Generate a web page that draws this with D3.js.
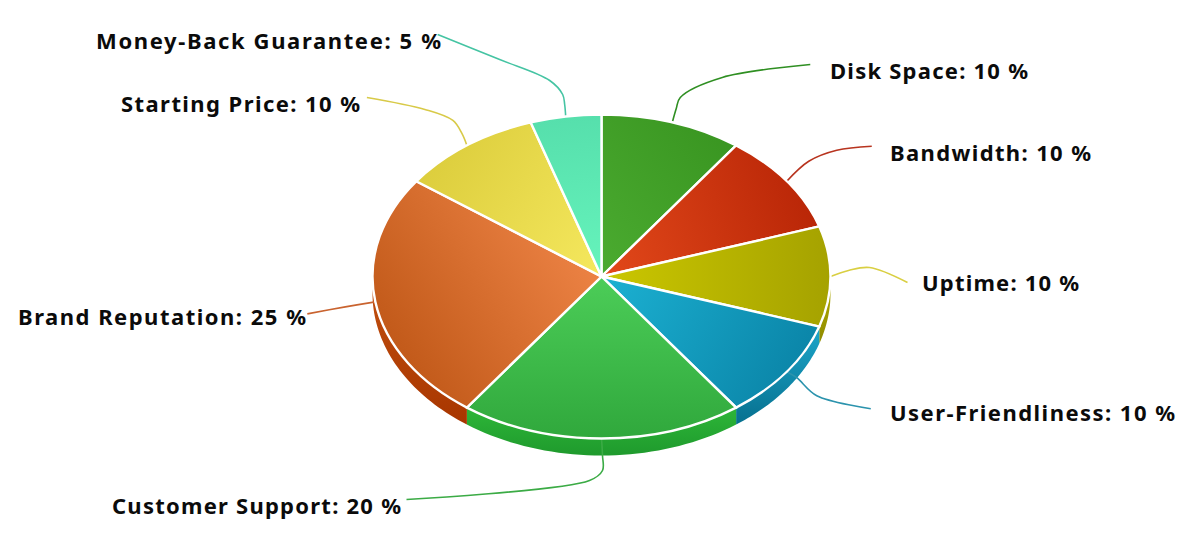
<!DOCTYPE html>
<html>
<head>
<meta charset="utf-8">
<script src="https://cdn.jsdelivr.net/npm/d3@7"></script>
<style>
  html, body { margin: 0; background: #fff; overflow: hidden; }
  text { font-family: "Noto Sans", sans-serif; font-weight: 700; font-size: 22px; fill: #0b0b0b; }
</style>
</head>
<body>
<script>
const categories = ['Disk Space', 'Bandwidth', 'Uptime', 'User-Friendliness', 'Customer Support', 'Brand Reputation', 'Starting Price', 'Money-Back Guarantee'];
const shares = [10, 10, 10, 10, 20, 25, 10, 5];

const lightColors = ['#4bab30', '#e2481a', '#cbc700', '#1cb1d2', '#4ccd58', '#ec8244', '#f5e85e', '#66f4bc'];
const darkColors = ['#389420', '#b92607', '#a5a200', '#0b86a9', '#30a83c', '#c25a1a', '#dccd3c', '#56dfac'];
const wallLight = ['#368f1e', '#b82405', '#b3ae00', '#1ca6ca', '#2db638', '#c2500f', '#d6c635', '#54dcaa'];
const wallDark = ['#368f1e', '#b82405', '#8f8a00', '#07708f', '#1f9a2d', '#a83600', '#d6c635', '#54dcaa'];
const leaderColors = ['#2f8f22', '#b8341f', '#d9cf42', '#2b93ad', '#3bab45', '#c9632f', '#d8ca48', '#45c4a3'];

const width = 1193, height = 549;
const cx = 601.5, cy = 276.5, rx = 229, ry = 162, depth = 17;

const svg = d3.select('body').append('svg')
  .attr('width', width)
  .attr('height', height);

const defs = svg.append('defs');

const slices = d3.pie().sort(null).value(d => d)(shares);
const midAngle = d => (d.startAngle + d.endAngle) / 2;
const rimPoint = a => [cx + rx * Math.sin(a), cy - ry * Math.cos(a)];

// direction of the shading inside each slice, degrees clockwise from up
const shadeDirs = [58, 78, 90, 112, 180, 245, 295, 350];

slices.forEach((d, i) => {
  const a = shadeDirs[i] * Math.PI / 180;
  const g = defs.append('linearGradient')
    .attr('id', `top${i}`)
    .attr('gradientUnits', 'userSpaceOnUse')
    .attr('x1', 0).attr('y1', 0)
    .attr('x2', rx * Math.sin(a)).attr('y2', -rx * Math.cos(a));
  g.append('stop').attr('offset', 0).attr('stop-color', lightColors[i]);
  g.append('stop').attr('offset', 1).attr('stop-color', darkColors[i]);

  const w = defs.append('linearGradient')
    .attr('id', `wall${i}`)
    .attr('x1', 0).attr('y1', 0).attr('x2', 0).attr('y2', 1);
  w.append('stop').attr('offset', 0).attr('stop-color', wallLight[i]);
  w.append('stop').attr('offset', 1).attr('stop-color', wallDark[i]);
});

// outer wall of the disc, only the part of each slice facing the viewer
const wallPath = d => {
  const a0 = Math.max(d.startAngle, Math.PI / 2);
  const a1 = Math.min(d.endAngle, Math.PI * 3 / 2);
  if (a1 <= a0) return null;
  const upper = d3.range(0, 41).map(k => rimPoint(a0 + (a1 - a0) * k / 40));
  const lower = upper.slice().reverse().map(p => [p[0], p[1] + depth]);
  return d3.line()(upper.concat(lower)) + 'Z';
};

svg.append('g')
  .selectAll('path')
  .data(slices)
  .enter().append('path')
  .attr('d', wallPath)
  .attr('fill', (d, i) => `url(#wall${i})`);

// leaders run from the rim at the middle of the slice, offsets from that point
const leaderBends = [
  [[4, -14], [8, -25], [50, -45], [138, -58]],
  [[22, -20], [50, -31], [85, -35]],
  [[18, -6], [39, -9], [77, 6]],
  [[10, 6], [30, 24], [84, 37]],
  [[1, 17], [1, 32], [-12, 42], [-195, 61]],
  [[-30, 5], [-68, 12]],
  [[-5, -12], [-14, -25], [-42, -36], [-100, -48]],
  [[-1, -12], [-3, -22], [-16, -36], [-66, -57], [-128, -82]]
];

const leader = d3.line().curve(d3.curveCatmullRom.alpha(0.5));

svg.append('g')
  .selectAll('path')
  .data(slices)
  .enter().append('path')
  .attr('fill', 'none')
  .attr('stroke', (d, i) => leaderColors[i])
  .attr('stroke-width', 1.6)
  .attr('d', (d, i) => {
    const s = rimPoint(midAngle(d));
    return leader([s].concat(leaderBends[i].map(o => [s[0] + o[0], s[1] + o[1]])));
  });

const arc = d3.arc().innerRadius(0).outerRadius(rx);

svg.append('g')
  .attr('transform', `translate(${cx},${cy}) scale(1,${ry / rx})`)
  .selectAll('path')
  .data(slices)
  .enter().append('path')
  .attr('d', arc)
  .attr('fill', (d, i) => `url(#top${i})`)
  .attr('stroke', '#fff')
  .attr('stroke-width', 2.4)
  .attr('vector-effect', 'non-scaling-stroke');

// label start x, baseline y and drawn width
const labelX = [830, 890, 922, 890, 112, 18, 121, 96];
const labelY = [79, 161, 291, 421, 514, 325, 112, 49];
const labelW = [198, 201, 157, 285, 289, 288, 239, 345];

svg.append('g')
  .selectAll('text')
  .data(categories)
  .enter().append('text')
  .attr('x', (d, i) => labelX[i])
  .attr('y', (d, i) => labelY[i])
  .attr('textLength', (d, i) => labelW[i])
  .attr('lengthAdjust', 'spacing')
  .text((d, i) => `${d}: ${shares[i]} %`);
</script>
</body>
</html>
